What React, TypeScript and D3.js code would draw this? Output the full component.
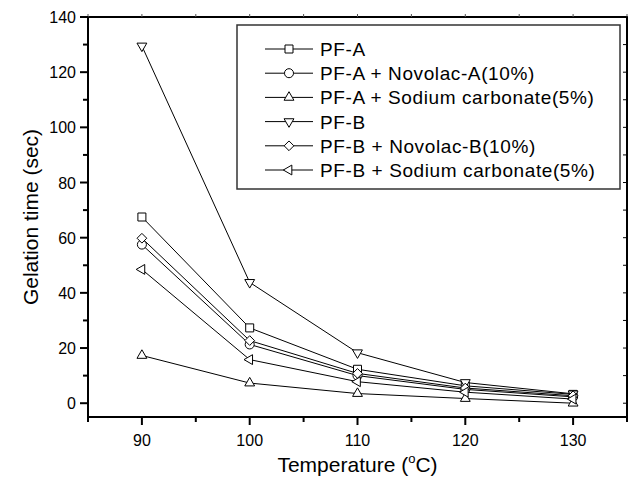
import * as d3 from "d3";

const temps = [90, 100, 110, 120, 130];
const seriesNames = [
  "PF-A",
  "PF-A + Novolac-A(10%)",
  "PF-A + Sodium carbonate(5%)",
  "PF-B",
  "PF-B + Novolac-B(10%)",
  "PF-B + Sodium carbonate(5%)",
];
const pfA = [67.5, 27.3, 12.3, 6.3, 3.2];
const pfANovolac = [57.5, 21.3, 10.0, 5.0, 2.3];
const pfASodium = [17.3, 7.3, 3.5, 1.7, 0.0];
const pfB = [129.5, 43.8, 18.3, 7.5, 3.4];
const pfBNovolac = [59.8, 22.7, 10.8, 5.5, 2.7];
const pfBSodium = [48.5, 15.8, 7.8, 4.0, 1.5];
const seriesValues = [pfA, pfANovolac, pfASodium, pfB, pfBNovolac, pfBSodium];
const xTicks = [90, 100, 110, 120, 130];
const xMinorTicks = [85, 95, 105, 115, 125, 135];
const yTicks = [0, 20, 40, 60, 80, 100, 120, 140];
const yMinorTicks = [10, 30, 50, 70, 90, 110, 130];

const W = 629;
const H = 479;
const margin = { left: 88, right: 2, top: 17, bottom: 62 };
const font = "'Liberation Sans', Arial, Helvetica, sans-serif";

// marker shapes: symbol type + rotation
const markers = [
  { type: d3.symbolSquare, size: 64, rot: 0 },
  { type: d3.symbolCircle, size: 64, rot: 0 },
  { type: d3.symbolTriangle, size: 42, rot: 0 },
  { type: d3.symbolTriangle, size: 42, rot: 180 },
  { type: d3.symbolDiamond2, size: 60, rot: 0 },
  { type: d3.symbolTriangle, size: 42, rot: -90 },
];

export default function App() {
  const x = d3
    .scaleLinear()
    .domain([85, 135])
    .range([margin.left, W - margin.right]);
  const y = d3
    .scaleLinear()
    .domain([-5, 140])
    .range([H - margin.bottom, margin.top]);

  const line = d3
    .line<number>()
    .x((_, i) => x(temps[i]))
    .y((d) => y(d));

  const x0 = x.range()[0];
  const x1 = x.range()[1];
  const y0 = y.range()[0];
  const y1 = y.range()[1];

  // legend layout
  const lg = { x: 237, y: 25, w: 383, h: 164, row0: 49, rowH: 24.2 };

  return (
    <svg
      width={W}
      height={H}
      style={{ position: "absolute", left: 0, top: 0, background: "#fff" }}
      fontFamily={font}
    >
      {/* series lines */}
      {seriesValues.map((vals, i) => (
        <path
          key={"l" + i}
          d={line(vals) || ""}
          fill="none"
          stroke="#000"
          strokeWidth={1}
        />
      ))}
      {/* markers */}
      {seriesValues.map((vals, i) => {
        const m = markers[i];
        const p = d3.symbol().type(m.type).size(m.size)();
        return vals.map((v, j) => (
          <path
            key={"m" + i + "-" + j}
            d={p || ""}
            transform={`translate(${x(temps[j])},${y(v)}) rotate(${m.rot})`}
            fill="#fff"
            stroke="#000"
            strokeWidth={1}
          />
        ));
      })}

      {/* frame */}
      <rect
        x={x0}
        y={y1}
        width={x1 - x0}
        height={y0 - y1}
        fill="none"
        stroke="#000"
        strokeWidth={2}
      />

      {/* bottom axis + top mirror ticks */}
      {xTicks.map((t) => (
        <g key={"xt" + t}>
          <line x1={x(t)} x2={x(t)} y1={y0} y2={y0 + 8} stroke="#000" strokeWidth={2} />
          <text x={x(t)} y={y0 + 29} textAnchor="middle" fontSize={16}>
            {t}
          </text>
        </g>
      ))}
      {xMinorTicks.map((t) => (
        <line key={"xm" + t} x1={x(t)} x2={x(t)} y1={y0} y2={y0 + 5} stroke="#000" strokeWidth={2} />
      ))}
      {xTicks.concat(xMinorTicks).map((t) => (
        <line key={"xtop" + t} x1={x(t)} x2={x(t)} y1={y1} y2={y1 - 3} stroke="#555" strokeWidth={1} />
      ))}

      {/* left axis + right mirror ticks */}
      {yTicks.map((t) => (
        <g key={"yt" + t}>
          <line x1={x0} x2={x0 - 8} y1={y(t)} y2={y(t)} stroke="#000" strokeWidth={2} />
          <text x={x0 - 12} y={y(t) + 6} textAnchor="end" fontSize={16}>
            {t}
          </text>
        </g>
      ))}
      {yMinorTicks.map((t) => (
        <line key={"ym" + t} x1={x0} x2={x0 - 5} y1={y(t)} y2={y(t)} stroke="#000" strokeWidth={2} />
      ))}
      {yTicks.concat(yMinorTicks).map((t) => (
        <line key={"yr" + t} x1={x1} x2={x1 - 4} y1={y(t)} y2={y(t)} stroke="#000" strokeWidth={1} />
      ))}

      {/* axis titles */}
      <text x={(x0 + x1) / 2} y={472} textAnchor="middle" fontSize={21}>
        Temperature (
        <tspan fontSize={13} dy={-9}>
          o
        </tspan>
        <tspan dy={9}>C)</tspan>
      </text>
      <text
        transform={`translate(38,${(y0 + y1) / 2}) rotate(-90)`}
        textAnchor="middle"
        fontSize={21}
      >
        Gelation time (sec)
      </text>

      {/* legend */}
      <rect
        x={lg.x}
        y={lg.y}
        width={lg.w}
        height={lg.h}
        fill="#fff"
        stroke="#333"
        strokeWidth={1.5}
      />
      {seriesNames.map((name, i) => {
        const cy = lg.row0 + i * lg.rowH;
        const m = markers[i];
        const p = d3.symbol().type(m.type).size(m.size)();
        return (
          <g key={"lg" + i}>
            <line x1={265} x2={313} y1={cy} y2={cy} stroke="#000" strokeWidth={1} />
            <path
              d={p || ""}
              transform={`translate(289,${cy}) rotate(${m.rot})`}
              fill="#fff"
              stroke="#000"
              strokeWidth={1}
            />
            <text x={320} y={cy + 7} fontSize={19} letterSpacing={0.6}>
              {name}
            </text>
          </g>
        );
      })}
    </svg>
  );
}
